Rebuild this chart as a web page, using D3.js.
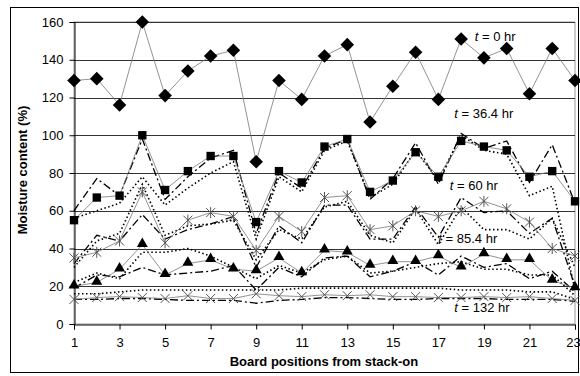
<!DOCTYPE html>
<html>
<head>
<meta charset="utf-8">
<script src="https://cdn.jsdelivr.net/npm/d3@7"></script>
<style>
  body { margin: 0; background: #fff; }
  text { font-family: "Liberation Sans", Arial, sans-serif; }
</style>
</head>
<body>
<svg id="chart" width="580" height="376"></svg>
<script>
// board positions 1..23
var positions = d3.range(1, 24);
var xTicks = [1, 3, 5, 7, 9, 11, 13, 15, 17, 19, 21, 23];
var yTicks = [0, 20, 40, 60, 80, 100, 120, 140, 160];

// t = 0 hr
var t0 = [129, 130, 116, 160, 121, 134, 142, 145, 86, 129, 119, 142, 148, 107, 126, 144, 119, 151, 141, 146, 122, 146, 129];

// t = 36.4 hr
var t36 = [55, 67, 68, 100, 71, 81, 89, 89, 54, 81, 75, 94, 98, 70, 76, 91, 78, 97, 94, 92, 78, 81, 65];
var t36dash = [60, 77, 68, 98, 66, 78, 88, 92, 48, 80, 72, 93, 98, 66, 77, 96, 74, 101, 93, 97, 75, 95, 64];
var t36dot = [56, 60, 64, 78, 63, 72, 80, 86, 45, 78, 70, 92, 97, 67, 74, 92, 76, 100, 92, 90, 68, 73, 18];

// t = 60 hr
var t60 = [35, 38, 44, 70, 43, 55, 59, 57, 39, 57, 49, 67, 68, 50, 52, 60, 57, 60, 65, 61, 54, 40, 36];
var t60dash = [32, 47, 44, 58, 45, 50, 53, 57, 30, 52, 43, 63, 63, 45, 45, 62, 46, 67, 59, 60, 48, 56, 20];
var t60dot = [30, 44, 48, 74, 47, 52, 53, 55, 34, 50, 45, 62, 65, 47, 43, 61, 42, 62, 50, 50, 45, 56, 30];

// t = 85.4 hr
var t85 = [20, 22, 29, 42, 26, 32, 34, 29, 28, 35, 27, 39, 38, 31, 33, 33, 36, 30, 37, 34, 34, 23, 19];
var t85dash = [19, 26, 25, 30, 26, 27, 28, 31, 18, 30, 25, 35, 36, 25, 28, 33, 26, 36, 30, 32, 24, 28, 17];
var t85dot = [22, 27, 24, 38, 38, 40, 36, 30, 24, 31, 27, 34, 36, 27, 28, 30, 32, 33, 29, 29, 26, 26, 15];

// t = 132 hr
var t132 = [13, 14, 14.5, 14, 13.5, 15, 13.5, 13.5, 16, 15, 14.5, 15.5, 15, 15.5, 14.5, 14.5, 14, 14, 14.5, 14, 14.5, 13.5, 12.5];
var t132dash = [13, 13, 13.5, 13.5, 13, 12.5, 12.5, 12.5, 11, 12.5, 13, 14, 14, 13.5, 13, 13, 13.5, 13.5, 13.5, 13, 13, 13, 12];
var t132dot = [16, 16, 17, 18, 18, 18, 18, 18, 18, 18, 19, 19, 19, 19, 19, 19, 19, 18, 18, 18, 17, 17, 13];

var labels = ['0', '36.4', '60', '85.4', '132'];

var svg = d3.select('#chart');
var x = d3.scaleLinear().domain([1, 23]).range([74, 575]);
var y = d3.scaleLinear().domain([0, 160]).range([324, 22]);

// outer frame
svg.append('rect').attr('x', 10.5).attr('y', 7.5).attr('width', 568).attr('height', 365)
  .attr('fill', 'none').attr('stroke', '#000').attr('stroke-width', 1);

// plot area border
svg.append('rect').attr('x', 74).attr('y', 22).attr('width', 501).attr('height', 302)
  .attr('fill', 'none').attr('stroke', '#999').attr('stroke-width', 1);

// gridlines
svg.selectAll('.grid').data(yTicks.slice(1)).enter().append('line')
  .attr('x1', 74).attr('x2', 575)
  .attr('y1', function(d) { return Math.round(y(d)) + 0.5; })
  .attr('y2', function(d) { return Math.round(y(d)) + 0.5; })
  .attr('stroke', '#333').attr('stroke-width', 1);

// axes
var xAxis = d3.axisBottom(x).tickValues(xTicks).tickSize(5).tickPadding(8).tickFormat(d3.format('d'));
var gx = svg.append('g').attr('transform', 'translate(0,' + (Math.round(y(0)) + 0.5) + ')').call(xAxis);
var yAxis = d3.axisLeft(y).tickValues(yTicks).tickSize(5).tickPadding(6);
var gy = svg.append('g').attr('transform', 'translate(' + 74.5 + ',0)').call(yAxis);
[gx, gy].forEach(function(g) {
  g.select('.domain').attr('stroke', '#000');
  g.selectAll('.tick line').attr('stroke', '#000');
  g.selectAll('.tick text').attr('font-size', 13).attr('fill', '#000')
    .style('font-family', '"Liberation Sans", Arial, sans-serif');
});
// last label sits against the frame, as in the original
gx.selectAll('.tick text').filter(function(d) { return d === 23; }).attr('dx', -2);

svg.append('text').attr('x', 324).attr('y', 366).attr('text-anchor', 'middle')
  .attr('font-size', 13).attr('font-weight', 'bold').text('Board positions from stack-on');
svg.append('text').attr('transform', 'translate(27,170) rotate(-90)').attr('text-anchor', 'middle')
  .attr('font-size', 13).attr('font-weight', 'bold').text('Moisture content (%)');

var line = d3.line().x(function(d, i) { return x(positions[i]); }).y(function(d) { return y(d); });

var drawLine = function(values, stroke, width, dash) {
  svg.append('path').datum(values).attr('d', line)
    .attr('fill', 'none').attr('stroke', stroke).attr('stroke-width', width)
    .attr('stroke-dasharray', dash || null);
};

var drawMarkers = function(values, kind) {
  var g = svg.append('g');
  values.forEach(function(v, i) {
    var cx = x(positions[i]), cy = y(v);
    if (kind === 'diamond') {
      g.append('path').attr('d', d3.symbol(d3.symbolSquare, 92)())
        .attr('transform', 'translate(' + cx + ',' + cy + ') rotate(45)').attr('fill', '#000');
    } else if (kind === 'square') {
      g.append('path').attr('d', d3.symbol(d3.symbolSquare, 70)())
        .attr('transform', 'translate(' + cx + ',' + cy + ')').attr('fill', '#000');
    } else if (kind === 'triangle') {
      g.append('path').attr('d', d3.symbol(d3.symbolTriangle, 52)())
        .attr('transform', 'translate(' + cx + ',' + (cy - 1) + ')').attr('fill', '#000');
    } else {
      var r = 4.5;
      var p = 'M' + (-r) + ',' + (-r) + 'L' + r + ',' + r + 'M' + (-r) + ',' + r + 'L' + r + ',' + (-r);
      if (kind === 'star') p += 'M0,' + (-r - 1) + 'L0,' + (r + 1);
      g.append('path').attr('d', p).attr('transform', 'translate(' + cx + ',' + cy + ')')
        .attr('fill', 'none').attr('stroke', '#555').attr('stroke-width', 1);
    }
  });
};

var dashDot = '8,3,2,3';
var dotted = '1.5,2.5';

// companion lines
[[t36dash, t36dot], [t60dash, t60dot], [t85dash, t85dot], [t132dash, t132dot]].forEach(function(pair) {
  drawLine(pair[0], '#000', 1.3, dashDot);
  drawLine(pair[1], '#000', 1.6, dotted);
});

// marker series
[[t0, 'diamond'], [t36, 'square'], [t60, 'star'], [t85, 'triangle'], [t132, 'cross']].forEach(function(s) {
  drawLine(s[0], '#777', 0.8);
  drawMarkers(s[0], s[1]);
});

// series labels
var labelPos = [[18.6, 150], [17.7, 109], [17.5, 71], [17.0, 43], [17.7, 6.5]];
labels.forEach(function(l, i) {
  var t = svg.append('text').attr('x', x(labelPos[i][0])).attr('y', y(labelPos[i][1]))
    .attr('font-size', 13).attr('fill', '#000');
  t.append('tspan').attr('font-style', 'italic').text('t');
  t.append('tspan').text(' = ' + l + ' hr');
});
</script>
</body>
</html>
